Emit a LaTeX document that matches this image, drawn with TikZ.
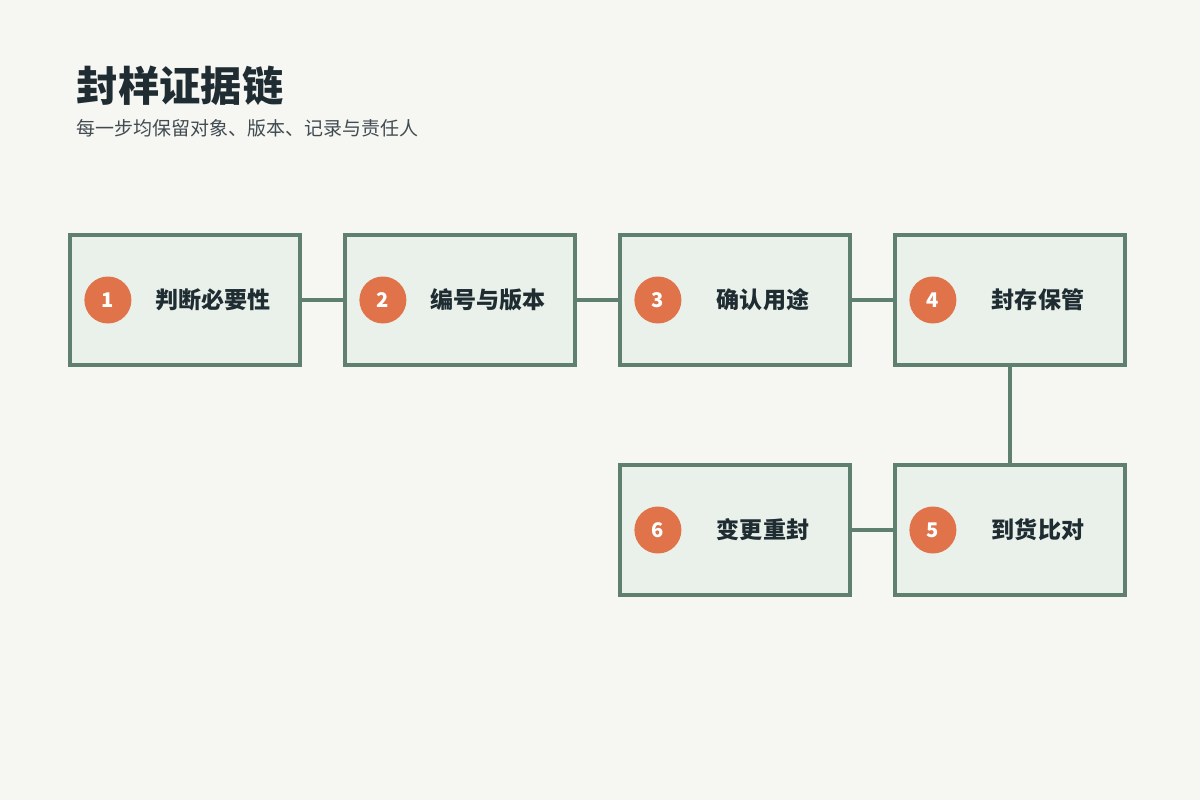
\documentclass[tikz,border=0pt]{standalone}
\usepackage{fontspec}
\setmainfont{Noto Sans CJK SC}
\usetikzlibrary{positioning}
\definecolor{Paper}{HTML}{F6F6F3}
\definecolor{BoxFill}{HTML}{EAF1EA}
\definecolor{BoxLine}{HTML}{5F7F6F}
\definecolor{Badge}{HTML}{E0734A}
\definecolor{Ink}{HTML}{1F2D33}
\tikzset{
    stepbox/.style={draw=BoxLine,fill=BoxFill,line width=2.4pt,minimum width=4.6cm,minimum height=2.6cm},
    badge/.style={circle,fill=Badge,minimum size=0.94cm,inner sep=0pt,text=white,font=\bfseries\fontsize{11.5}{13}\selectfont},
    steplabel/.style={text=Ink,font=\bfseries\fontsize{13.1}{15}\selectfont},
    link/.style={draw=BoxLine,line width=2.4pt}
}
\begin{document}
\begin{tikzpicture}
  \fill[Paper] (0,0) rectangle (24,-16);
  \useasboundingbox (0,0) rectangle (24,-16);

  \node[anchor=west,inner sep=0pt,text=Ink,font=\bfseries\fontsize{23.5}{27}\selectfont] (title) at (1.53,-1.72) {封样证据链};
  \node[anchor=west,inner sep=0pt,text=Ink!85,font=\fontsize{10.8}{13}\selectfont] (sub) at (1.53,-2.56) {每一步均保留对象、版本、记录与责任人};

  \node[stepbox] (s1) at (3.7,-6) {};
  \node[stepbox] (s2) at (9.2,-6) {};
  \node[stepbox] (s3) at (14.7,-6) {};
  \node[stepbox] (s4) at (20.2,-6) {};
  \node[stepbox] (s5) at (20.2,-10.6) {};
  \node[stepbox] (s6) at (14.7,-10.6) {};

  \foreach \n/\t in {1/判断必要性,2/编号与版本,3/确认用途,4/封存保管,5/到货比对,6/变更重封}{
    \node[badge] (b\n) at ([xshift=0.8cm]s\n.west) {\n};
    \node[steplabel] (t\n) at ([xshift=0.56cm]s\n.center) {\t};
  }

  \draw[link] (s1) -- (s2);
  \draw[link] (s2) -- (s3);
  \draw[link] (s3) -- (s4);
  \draw[link] (s4) -- (s5);
  \draw[link] (s5) -- (s6);
\end{tikzpicture}
\end{document}
